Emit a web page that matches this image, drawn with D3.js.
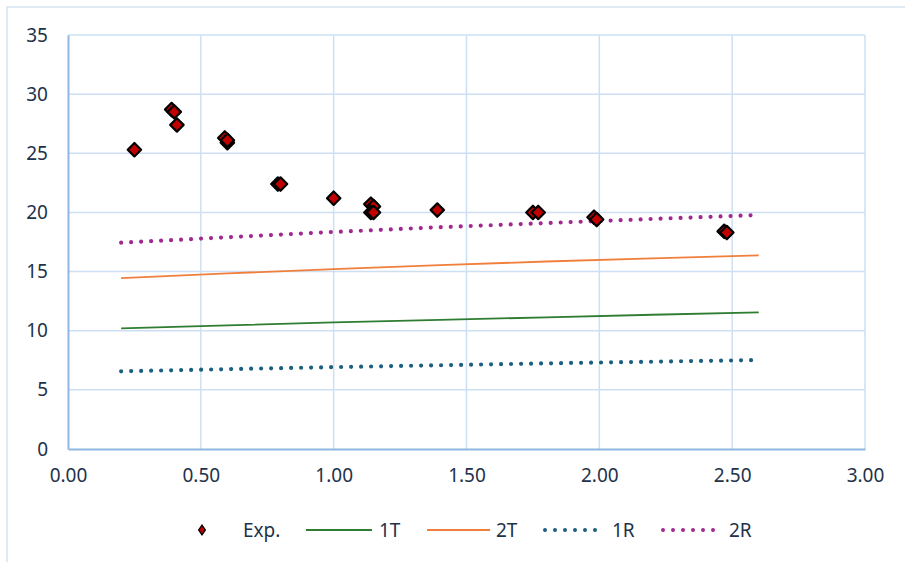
<!DOCTYPE html>
<html>
<head>
<meta charset="utf-8">
<script src="https://cdn.jsdelivr.net/npm/d3@7"></script>
<style>
  html, body { margin: 0; padding: 0; background: #fff; }
  svg { display: block; }
  text { font-family: "Noto Sans", "Liberation Sans", sans-serif; fill: #1e3249; }
</style>
</head>
<body>
<svg id="chart" width="905" height="562"></svg>
<script>
// Experimental points
const expX = [0.25, 0.39, 0.40, 0.41, 0.59, 0.60, 0.60, 0.79, 0.80, 1.00, 1.14, 1.15, 1.14, 1.15, 1.39, 1.75, 1.77, 1.98, 1.99, 2.47, 2.48];
const expY = [25.3, 28.7, 28.5, 27.4, 26.3, 25.9, 26.1, 22.4, 22.4, 21.2, 20.7, 20.5, 20.0, 20.0, 20.2, 20.0, 20.0, 19.6, 19.4, 18.4, 18.3];

// Model curves
const modelX = [0.2, 0.6, 1.0, 1.4, 1.8, 2.2, 2.6];
const s1T = [10.2, 10.45, 10.7, 10.92, 11.13, 11.35, 11.55];
const s2T = [14.45, 14.85, 15.2, 15.55, 15.85, 16.12, 16.37];
const s1R = [6.57, 6.75, 6.92, 7.08, 7.24, 7.38, 7.52];
const s2R = [17.44, 17.9, 18.35, 18.75, 19.1, 19.45, 19.78];

const xTicks = [0, 0.5, 1.0, 1.5, 2.0, 2.5, 3.0];
const yTicks = [0, 5, 10, 15, 20, 25, 30, 35];

const series = [
  { name: "1T", values: s1T, color: "#2e7d32", dotted: false },
  { name: "2T", values: s2T, color: "#f07f3c", dotted: false },
  { name: "1R", values: s1R, color: "#1b5f80", dotted: true },
  { name: "2R", values: s2R, color: "#a0288f", dotted: true }
];

const svg = d3.select("#chart");
const x = d3.scaleLinear().domain([0, 3]).range([68, 865]);
const y = d3.scaleLinear().domain([0, 35]).range([449, 35]);

// chart frame
svg.append("rect").attr("x", 7).attr("y", 7).attr("width", 905).attr("height", 570)
  .attr("fill", "none").attr("stroke", "#d5e3f2").attr("stroke-width", 1.5);

// gridlines
svg.append("g").selectAll("line").data(yTicks.filter(d => d > 0)).join("line")
  .attr("x1", x(0)).attr("x2", x(3)).attr("y1", d => y(d)).attr("y2", d => y(d))
  .attr("stroke", "#cde0f3").attr("stroke-width", 1.5);
svg.append("g").selectAll("line").data(xTicks.filter(d => d > 0)).join("line")
  .attr("x1", d => x(d)).attr("x2", d => x(d)).attr("y1", y(0)).attr("y2", y(35))
  .attr("stroke", "#cde0f3").attr("stroke-width", 1.5);

// axes
const xAxis = d3.axisBottom(x).tickValues(xTicks).tickFormat(d3.format(".2f")).tickSize(0).tickPadding(20);
const gx = svg.append("g").attr("transform", `translate(0,${y(0)})`).call(xAxis);
gx.select(".domain").attr("stroke", "#8fb7e2").attr("stroke-width", 2);
gx.selectAll("text").style("font-size", "19px").style("fill", "#1e3249");

const yAxis = d3.axisLeft(y).tickValues(yTicks).tickSize(0).tickPadding(20);
const gy = svg.append("g").attr("transform", `translate(${x(0)},0)`).call(yAxis);
gy.select(".domain").attr("stroke", "#8fb7e2").attr("stroke-width", 2);
gy.selectAll("text").style("font-size", "19px").style("fill", "#1e3249");

// model lines
const line = d3.line().x((d, i) => x(modelX[i])).y(d => y(d));
series.forEach(s => {
  const p = svg.append("path").datum(s.values).attr("d", line)
    .attr("fill", "none").attr("stroke", s.color);
  if (s.dotted) {
    p.attr("stroke-width", 4.2).attr("stroke-linecap", "round").attr("stroke-dasharray", "0 10");
  } else {
    p.attr("stroke-width", 1.8);
  }
});

// experimental markers: rotated squares
const marker = d3.symbol().type(d3.symbolSquare).size(90);
svg.append("g").selectAll("path").data(expX.map((d, i) => [d, expY[i]])).join("path")
  .attr("d", marker)
  .attr("transform", d => `translate(${x(d[0])},${y(d[1])}) rotate(45)`)
  .attr("fill", "#c00000").attr("stroke", "#000").attr("stroke-width", 2.2)
  .attr("stroke-linejoin", "round");

// legend
const lg = svg.append("g").attr("transform", "translate(0,530)");
lg.append("path").attr("d", d3.symbol().type(d3.symbolSquare).size(40))
  .attr("transform", "translate(202,0) scale(0.75,1.1) rotate(45)")
  .attr("fill", "#c00000").attr("stroke", "#000").attr("stroke-width", 1.5);
lg.append("text").attr("x", 243).attr("y", 7).style("font-size", "19px").text("Exp.");
const legendItems = [
  { s: series[0], x1: 306, x2: 372, tx: 379 },
  { s: series[1], x1: 427, x2: 490, tx: 496 },
  { s: series[2], x1: 545, x2: 605, tx: 612 },
  { s: series[3], x1: 663, x2: 722, tx: 729 }
];
legendItems.forEach(it => {
  const l = lg.append("line").attr("x1", it.x1).attr("x2", it.x2).attr("y1", 0).attr("y2", 0)
    .attr("stroke", it.s.color);
  if (it.s.dotted) {
    l.attr("stroke-width", 4).attr("stroke-linecap", "round").attr("stroke-dasharray", "0 10");
  } else {
    l.attr("stroke-width", 1.8);
  }
  lg.append("text").attr("x", it.tx).attr("y", 7).style("font-size", "19px").text(it.s.name);
});
</script>
</body>
</html>
